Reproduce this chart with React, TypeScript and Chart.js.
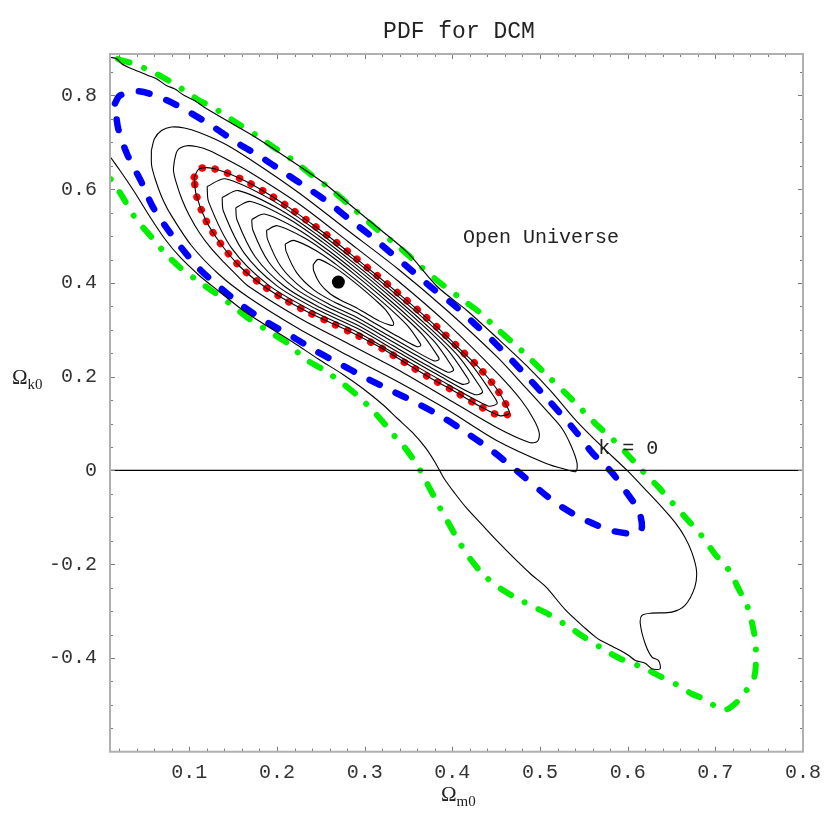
import React, { useEffect, useRef } from 'react';
import { Chart, registerables } from 'chart.js';

Chart.register(...registerables);

type Pt = [number, number];

const X_MIN = 0.0095;
const X_MAX = 0.8;
const Y_MIN = -0.6;
const Y_MAX = 0.8885;

const xTicks = [0.1, 0.2, 0.3, 0.4, 0.5, 0.6, 0.7, 0.8];
const yTicks = [-0.4, -0.2, 0, 0.2, 0.4, 0.6, 0.8];
const xMinorTicks = [0.02, 0.04, 0.06, 0.08, 0.12, 0.14, 0.16, 0.18, 0.22, 0.24, 0.26, 0.28, 0.32, 0.34, 0.36, 0.38, 0.42, 0.44, 0.46, 0.48, 0.52, 0.54, 0.56, 0.58, 0.62, 0.64, 0.66, 0.68, 0.72, 0.74, 0.76, 0.78];
const yMinorTicks = [-0.55, -0.5, -0.45, -0.35, -0.3, -0.25, -0.15, -0.1, -0.05, 0.05, 0.1, 0.15, 0.25, 0.3, 0.35, 0.45, 0.5, 0.55, 0.65, 0.7, 0.75, 0.85];

const bestFit: Pt[] = [[0.27, 0.402]];
const flatLine: Pt[] = [[X_MIN, 0], [X_MAX, 0]];

// 99.7% level (green dash-dot)
const green997: Pt[] = [
  [0.0186, 0.8779], [0.0228, 0.8747], [0.0356, 0.8683], [0.0548, 0.8533], [0.0695, 0.839], [0.0793, 0.8284],
  [0.0943, 0.8107], [0.1113, 0.7893], [0.1226, 0.7787], [0.1358, 0.7644], [0.1528, 0.743], [0.1769, 0.7147],
  [0.1961, 0.6897], [0.2187, 0.6613], [0.2376, 0.633], [0.2583, 0.6044], [0.2809, 0.569], [0.3111, 0.519],
  [0.3393, 0.4764], [0.3563, 0.448], [0.3827, 0.4053], [0.4128, 0.3627], [0.4313, 0.3371], [0.4482, 0.3072],
  [0.4788, 0.256], [0.507, 0.2048], [0.5353, 0.1536], [0.5635, 0.0996], [0.5824, 0.0676], [0.5975, 0.039],
  [0.6163, 0], [0.6351, -0.0356], [0.6503, -0.0676], [0.669, -0.1067], [0.6842, -0.1387], [0.6992, -0.1777],
  [0.7143, -0.2097], [0.7275, -0.256], [0.7369, -0.2916], [0.7444, -0.3484], [0.7464, -0.391], [0.7444, -0.441],
  [0.7354, -0.4693], [0.7241, -0.4949], [0.7128, -0.5099], [0.7015, -0.5056], [0.6913, -0.4907], [0.6729, -0.4764],
  [0.6577, -0.4587], [0.6351, -0.4373], [0.6163, -0.4196], [0.5918, -0.4017], [0.5748, -0.384], [0.5503, -0.3556],
  [0.5333, -0.3343], [0.5089, -0.3057], [0.495, -0.293], [0.475, -0.274], [0.455, -0.252], [0.437, -0.225],
  [0.421, -0.19], [0.407, -0.15], [0.395, -0.11], [0.383, -0.07], [0.372, -0.03], [0.362, 0.005],
  [0.352, 0.033], [0.342, 0.058], [0.3318, 0.078], [0.3261, 0.092], [0.3111, 0.124], [0.2941, 0.156],
  [0.2752, 0.185], [0.2546, 0.213], [0.2319, 0.238], [0.2131, 0.27], [0.1924, 0.295], [0.1678, 0.324],
  [0.149, 0.352], [0.1283, 0.38], [0.1094, 0.405], [0.0887, 0.434], [0.0698, 0.469], [0.0567, 0.498],
  [0.0378, 0.54], [0.0228, 0.587], [0.0115, 0.619], [0.0095, 0.623],
];

// 95.4% level (blue dashed)
const blue954: Pt[] = [
  [0.0152, 0.783], [0.0209, 0.8], [0.0426, 0.809], [0.0726, 0.791], [0.1, 0.7644], [0.1263, 0.7343],
  [0.1546, 0.6987], [0.182, 0.6684], [0.2074, 0.6364], [0.2319, 0.6063], [0.2583, 0.5724], [0.2818, 0.537],
  [0.3064, 0.5013], [0.329, 0.4657], [0.3535, 0.4267], [0.378, 0.3876], [0.4025, 0.352], [0.4252, 0.313],
  [0.4458, 0.2773], [0.4788, 0.2133], [0.507, 0.1557], [0.5398, 0.0853], [0.5598, 0.0373], [0.5824, -0.0053],
  [0.6003, -0.0512], [0.6125, -0.0853], [0.6163, -0.121], [0.611, -0.1323], [0.6031, -0.135], [0.5805, -0.128],
  [0.5655, -0.1173], [0.5447, -0.0996], [0.524, -0.0768], [0.507, -0.0533], [0.4731, 0], [0.4448, 0.0427],
  [0.4109, 0.087], [0.3855, 0.1173], [0.3572, 0.1457], [0.3299, 0.1707], [0.2998, 0.199], [0.2715, 0.2276],
  [0.2432, 0.256], [0.2168, 0.2863], [0.1885, 0.3164], [0.1613, 0.3503], [0.1367, 0.3876], [0.1132, 0.4267],
  [0.0934, 0.4693], [0.0755, 0.5137], [0.0585, 0.5617], [0.0454, 0.615], [0.0293, 0.6737], [0.0189, 0.729],
];

// 68.3% level (red dotted, lies on a black contour)
const red683: Pt[] = [
  [0.1057, 0.6257], [0.1113, 0.6436], [0.1283, 0.6436], [0.1585, 0.6223], [0.1867, 0.5937], [0.2131, 0.5618],
  [0.2394, 0.5263], [0.2639, 0.4922], [0.2885, 0.455], [0.314, 0.416], [0.3382, 0.378], [0.362, 0.34],
  [0.3853, 0.301], [0.4083, 0.2596], [0.4316, 0.217], [0.4505, 0.1743], [0.463, 0.134], [0.465, 0.1216],
  [0.454, 0.117], [0.4297, 0.1387], [0.4022, 0.1692], [0.3744, 0.1978], [0.3468, 0.2289], [0.3205, 0.2596],
  [0.2922, 0.288], [0.2639, 0.313], [0.2357, 0.3377], [0.2074, 0.3663], [0.1811, 0.3983], [0.1565, 0.4373],
  [0.1358, 0.4836], [0.1189, 0.5333], [0.1076, 0.5903],
];

// black PDF contours
const pdfOuter: Pt[] = [
  [0.0095, 0.8817], [0.0171, 0.8783], [0.0228, 0.8676], [0.0302, 0.8604], [0.0415, 0.8518], [0.0529, 0.8427],
  [0.0624, 0.8356], [0.0737, 0.8213], [0.083, 0.8143], [0.0943, 0.8], [0.1057, 0.7893], [0.117, 0.775],
  [0.149, 0.7396], [0.1754, 0.711], [0.2018, 0.679], [0.2244, 0.6507], [0.2546, 0.6116], [0.2843, 0.5653],
  [0.3148, 0.5184], [0.3487, 0.4651], [0.3827, 0.3925], [0.4166, 0.3413], [0.4505, 0.2837], [0.4844, 0.224],
  [0.5127, 0.1685], [0.5409, 0.1067], [0.5692, 0.0533], [0.5994, 0], [0.62, -0.0405], [0.639, -0.0783],
  [0.654, -0.1109], [0.6653, -0.1423], [0.6732, -0.1749], [0.6785, -0.2133], [0.6766, -0.249], [0.6653, -0.288],
  [0.6503, -0.3023], [0.6277, -0.3044], [0.6163, -0.3093], [0.6144, -0.327], [0.62, -0.3697], [0.6277, -0.3983],
  [0.6351, -0.4053], [0.637, -0.423], [0.6277, -0.423], [0.62, -0.4111], [0.6088, -0.4053], [0.6012, -0.3947],
  [0.5918, -0.384], [0.5842, -0.377], [0.5768, -0.3697], [0.5692, -0.3627], [0.5635, -0.3556], [0.5522, -0.3377],
  [0.5296, -0.2987], [0.507, -0.249], [0.49, -0.2219], [0.4731, -0.192], [0.4505, -0.1493], [0.4335, -0.1152],
  [0.4166, -0.0811], [0.403, -0.0491], [0.3906, -0.0171], [0.3804, 0.0171], [0.3691, 0.0491], [0.3544, 0.0811],
  [0.3374, 0.1109], [0.3205, 0.1408], [0.2979, 0.1749], [0.2752, 0.2048], [0.247, 0.2379], [0.2187, 0.2731],
  [0.1904, 0.3061], [0.1622, 0.3403], [0.1339, 0.3819], [0.1113, 0.416], [0.0887, 0.4565], [0.0717, 0.4949],
  [0.0548, 0.5419], [0.0378, 0.5931], [0.0209, 0.64], [0.0095, 0.6699],
];

const pdfLevel2: Pt[] = [
  [0.0567, 0.6827], [0.0604, 0.7083], [0.0683, 0.7253], [0.0796, 0.7328], [0.0943, 0.7307], [0.1113, 0.7211],
  [0.1396, 0.6976], [0.1678, 0.6656], [0.2244, 0.5931], [0.2809, 0.512], [0.3374, 0.4309], [0.394, 0.3413],
  [0.4505, 0.2432], [0.4844, 0.1749], [0.5093, 0.1237], [0.5251, 0.0896], [0.5353, 0.0533], [0.5421, 0.0171],
  [0.541, -0.0021], [0.5296, 0.0021], [0.507, 0.0149], [0.4505, 0.064], [0.394, 0.1301], [0.3374, 0.1899],
  [0.2809, 0.2453], [0.2244, 0.3029], [0.1678, 0.3691], [0.1339, 0.4181], [0.1023, 0.48], [0.0774, 0.5504],
  [0.0683, 0.5845], [0.0616, 0.6187], [0.057, 0.6507],
];

const pdfLevel3: Pt[] = [
  [0.083, 0.6613], [0.0864, 0.6827], [0.0955, 0.6923], [0.1079, 0.6912], [0.1226, 0.6827], [0.1452, 0.6613],
  [0.1678, 0.6379], [0.2244, 0.5696], [0.2809, 0.4885], [0.3374, 0.4053], [0.394, 0.3136], [0.4505, 0.2091],
  [0.4788, 0.1493], [0.4935, 0.1067], [0.4992, 0.0789], [0.497, 0.0619], [0.4879, 0.0597], [0.4505, 0.0917],
  [0.394, 0.1536], [0.3374, 0.2155], [0.2809, 0.2709], [0.2244, 0.3264], [0.1678, 0.3925], [0.1543, 0.416],
  [0.1396, 0.4437], [0.1249, 0.4736], [0.1113, 0.5077], [0.1, 0.544], [0.0921, 0.576], [0.0853, 0.6123],
  [0.0819, 0.64],
];

const pdfLevel5: Pt[] = [
  [0.1203, 0.6057], [0.1411, 0.6222], [0.1948, 0.5762], [0.2433, 0.5142], [0.2884, 0.4486], [0.3342, 0.3778],
  [0.3775, 0.307], [0.4201, 0.2297], [0.449, 0.1533], [0.4508, 0.1419], [0.4407, 0.1377], [0.393, 0.1857],
  [0.3421, 0.2406], [0.2918, 0.295], [0.2399, 0.3407], [0.1896, 0.3965], [0.148, 0.475], [0.122, 0.5731],
];
const pdfLevel6: Pt[] = [
  [0.1374, 0.5822], [0.156, 0.597], [0.2043, 0.5557], [0.2478, 0.5001], [0.2884, 0.4412], [0.3294, 0.3776],
  [0.3683, 0.314], [0.4066, 0.2446], [0.4325, 0.176], [0.4341, 0.1658], [0.4251, 0.162], [0.3823, 0.2051],
  [0.3365, 0.2544], [0.2914, 0.3032], [0.2447, 0.3443], [0.1996, 0.3943], [0.1622, 0.4648], [0.1389, 0.5529],
];
const pdfLevel7: Pt[] = [
  [0.153, 0.5606], [0.1697, 0.5739], [0.213, 0.537], [0.252, 0.4871], [0.2883, 0.4343], [0.3251, 0.3774],
  [0.3599, 0.3204], [0.3942, 0.2582], [0.4174, 0.1968], [0.4189, 0.1876], [0.4108, 0.1842], [0.3724, 0.2228],
  [0.3314, 0.267], [0.291, 0.3107], [0.2492, 0.3475], [0.2088, 0.3924], [0.1753, 0.4555], [0.1544, 0.5345],
];
const pdfLevel8: Pt[] = [
  [0.1712, 0.5356], [0.1857, 0.5471], [0.2231, 0.5151], [0.2568, 0.472], [0.2882, 0.4264], [0.32, 0.3771],
  [0.3502, 0.3278], [0.3798, 0.2741], [0.3999, 0.2209], [0.4012, 0.213], [0.3941, 0.2101], [0.361, 0.2435],
  [0.3255, 0.2817], [0.2906, 0.3195], [0.2544, 0.3513], [0.2195, 0.3901], [0.1905, 0.4447], [0.1724, 0.513],
];
const pdfLevel9: Pt[] = [
  [0.1881, 0.5124], [0.2005, 0.5222], [0.2325, 0.4949], [0.2613, 0.458], [0.2881, 0.419], [0.3153, 0.3769],
  [0.3411, 0.3347], [0.3664, 0.2888], [0.3836, 0.2434], [0.3847, 0.2366], [0.3787, 0.2341], [0.3503, 0.2627],
  [0.32, 0.2953], [0.2902, 0.3276], [0.2593, 0.3548], [0.2294, 0.388], [0.2046, 0.4346], [0.1892, 0.493],
];
const pdfLevel10: Pt[] = [
  [0.2094, 0.4831], [0.2192, 0.4908], [0.2443, 0.4693], [0.2669, 0.4403], [0.288, 0.4097], [0.3094, 0.3766],
  [0.3297, 0.3435], [0.3496, 0.3073], [0.3631, 0.2717], [0.3639, 0.2663], [0.3592, 0.2643], [0.3369, 0.2868],
  [0.3131, 0.3125], [0.2896, 0.3379], [0.2653, 0.3592], [0.2419, 0.3853], [0.2224, 0.422], [0.2103, 0.4679],
];
const pdfLevel11: Pt[] = [
  [0.2413, 0.4393], [0.2471, 0.4503], [0.2619, 0.4375], [0.2754, 0.4204], [0.2879, 0.4022], [0.3006, 0.3825],
  [0.3126, 0.3629], [0.3244, 0.3415], [0.3324, 0.318], [0.3329, 0.3108], [0.3301, 0.3096], [0.3169, 0.3186],
  [0.3028, 0.3338], [0.2888, 0.3489], [0.2744, 0.3616], [0.2605, 0.377], [0.249, 0.3988], [0.2418, 0.426],
];

const annotations = [
  { text: 'Open Universe', x: 0.4121, y: 0.4843 },
  { text: 'k = 0', x: 0.5664, y: 0.0352 },
];

const MONO = '"Liberation Mono", "DejaVu Sans Mono", monospace';
const SERIF = '"Liberation Serif", "DejaVu Serif", serif';

const toXY = (pts: Pt[]) => pts.map(([x, y]) => ({ x, y }));
const closed = (pts: Pt[]) => [...pts, pts[0]];

const curve = (pts: Pt[], extra: any) => ({
  data: toXY(pts),
  showLine: true,
  pointRadius: 0,
  pointHoverRadius: 0,
  fill: false,
  tension: 0.3,
  clip: 0,
  borderJoinStyle: 'round',
  ...extra,
});

const blackStyle = { borderColor: '#000000', borderWidth: 1.1, order: 5 };

const decorPlugin = {
  id: 'decor',
  afterDatasetsDraw(chart: any) {
    const { ctx, chartArea: a, scales } = chart;
    const xs = scales.x;
    const ys = scales.y;
    ctx.save();
    ctx.strokeStyle = '#7a7a7a';
    ctx.lineWidth = 1;
    const seg = (x1: number, y1: number, x2: number, y2: number) => {
      ctx.beginPath();
      ctx.moveTo(x1, y1);
      ctx.lineTo(x2, y2);
      ctx.stroke();
    };
    const xt = (v: number, len: number) => {
      const p = Math.round(xs.getPixelForValue(v)) + 0.5;
      seg(p, a.bottom, p, a.bottom - len);
      seg(p, a.top, p, a.top + len);
    };
    const yt = (v: number, len: number) => {
      const p = Math.round(ys.getPixelForValue(v)) + 0.5;
      seg(a.left, p, a.left + len, p);
      seg(a.right, p, a.right - len, p);
    };
    xTicks.forEach((v) => xt(v, 5));
    xMinorTicks.forEach((v) => xt(v, 3));
    yTicks.forEach((v) => yt(v, 5));
    yMinorTicks.forEach((v) => yt(v, 3));
    ctx.strokeStyle = '#b0b0b0';
    ctx.lineWidth = 2;
    ctx.strokeRect(a.left, a.top, a.right - a.left, a.bottom - a.top);

    // in-plot labels
    ctx.fillStyle = '#222222';
    ctx.font = `20px ${MONO}`;
    ctx.textAlign = 'left';
    ctx.textBaseline = 'alphabetic';
    annotations.forEach((t) => {
      ctx.fillText(t.text, xs.getPixelForValue(t.x), ys.getPixelForValue(t.y));
    });
    ctx.restore();
  },
  afterDraw(chart: any) {
    const { ctx } = chart;
    ctx.save();
    ctx.fillStyle = '#222222';
    ctx.font = `23px ${MONO}`;
    ctx.textAlign = 'center';
    ctx.textBaseline = 'alphabetic';
    ctx.fillText('PDF for DCM', 459, 37.5);

    const sub = (main: string, s: string, x: number, y: number) => {
      ctx.textAlign = 'left';
      ctx.font = `21px ${SERIF}`;
      ctx.fillText(main, x, y);
      const w = ctx.measureText(main).width;
      ctx.font = `15px ${SERIF}`;
      ctx.fillText(s, x + w, y + 5);
    };
    sub('\u03A9', 'm0', 441, 801);
    sub('\u03A9', 'k0', 12, 384);
    ctx.restore();
  },
};

export default function App() {
  const ref = useRef<HTMLCanvasElement>(null);
  useEffect(() => {
    document.body.style.margin = '0';
    const tickFont = { family: MONO, size: 20 };
    const chart = new Chart(ref.current as HTMLCanvasElement, {
      type: 'scatter',
      data: {
        datasets: [
          curve(green997, { borderColor: '#00f000', borderWidth: 6, borderDash: [12, 15.5, 0.01, 15.5], borderCapStyle: 'round', order: 10 }),
          curve(closed(blue954), { borderColor: '#0000ff', borderWidth: 6.5, borderDash: [11, 18], borderCapStyle: 'round', order: 9 }),
          curve(closed(red683), { borderColor: '#ff0000', borderWidth: 7.5, borderDash: [0.01, 13], borderCapStyle: 'round', order: 8 }),
          curve(pdfOuter, blackStyle),
          curve(closed(pdfLevel2), blackStyle),
          curve(closed(pdfLevel3), blackStyle),
          curve(closed(red683), blackStyle),
          curve(closed(pdfLevel5), blackStyle),
          curve(closed(pdfLevel6), blackStyle),
          curve(closed(pdfLevel7), blackStyle),
          curve(closed(pdfLevel8), blackStyle),
          curve(closed(pdfLevel9), blackStyle),
          curve(closed(pdfLevel10), blackStyle),
          curve(closed(pdfLevel11), blackStyle),
          curve(flatLine, { borderColor: '#000000', borderWidth: 1.3, tension: 0, order: 4 }),
          {
            data: toXY(bestFit),
            showLine: false,
            pointRadius: 6.5,
            pointHoverRadius: 6.5,
            pointBackgroundColor: '#000000',
            pointBorderWidth: 0,
            order: 1,
          },
        ] as any,
      },
      options: {
        responsive: false,
        animation: false,
        devicePixelRatio: 1,
        events: [],
        layout: { padding: { top: 54, right: 21.3, bottom: 0, left: 0 } },
        plugins: { legend: { display: false }, tooltip: { enabled: false }, title: { display: false } },
        scales: {
          x: {
            type: 'linear',
            position: 'bottom',
            min: X_MIN,
            max: X_MAX,
            afterBuildTicks: (s: any) => {
              s.ticks = xTicks.map((v) => ({ value: v }));
            },
            afterFit: (s: any) => {
              s.height = 78.3;
            },
            grid: { display: false, drawTicks: false },
            border: { display: false },
            ticks: {
              font: tickFont,
              color: '#333333',
              padding: 9,
              maxRotation: 0,
              autoSkip: false,
              callback: (v: any) => Number(v).toFixed(1),
            },
          },
          y: {
            type: 'linear',
            position: 'left',
            min: Y_MIN,
            max: Y_MAX,
            afterBuildTicks: (s: any) => {
              s.ticks = yTicks.map((v) => ({ value: v }));
            },
            afterFit: (s: any) => {
              s.width = 110;
            },
            grid: { display: false, drawTicks: false },
            border: { display: false },
            ticks: {
              font: tickFont,
              color: '#333333',
              padding: 13,
              autoSkip: false,
              callback: (v: any) => (Math.abs(Number(v)) < 1e-9 ? '0' : Number(v).toFixed(1)),
            },
          },
        },
      } as any,
      plugins: [decorPlugin],
    });
    return () => chart.destroy();
  }, []);
  return (
    <div style={{ width: 830, height: 830, position: 'relative' }}>
      <canvas ref={ref} width={830} height={830} style={{ display: 'block', width: 830, height: 830 }} />
    </div>
  );
}
